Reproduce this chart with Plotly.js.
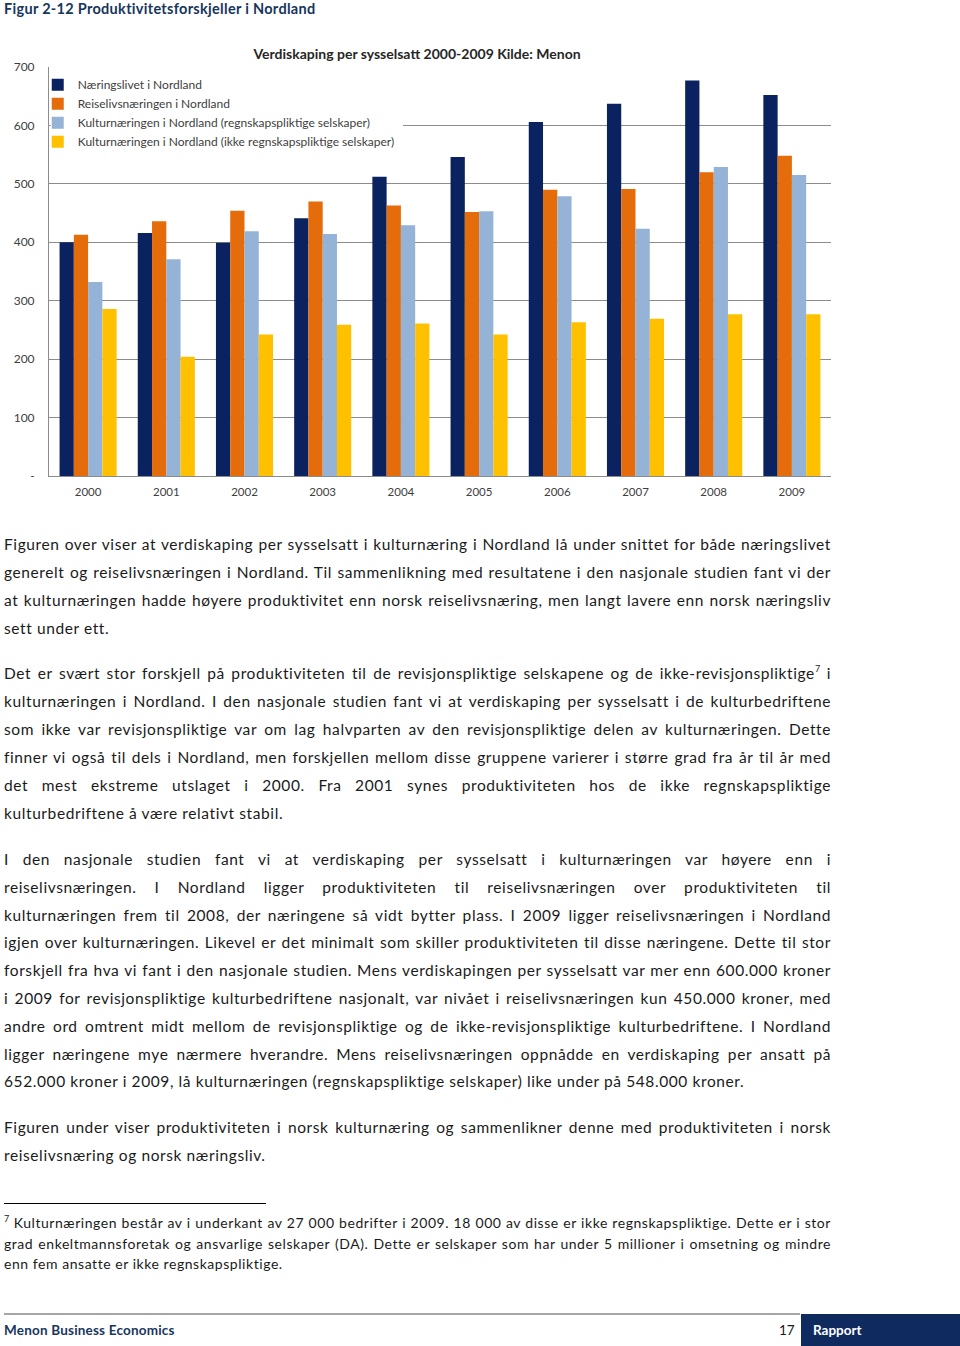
<!DOCTYPE html>
<html>
<head>
<meta charset="utf-8">
<script src="https://cdn.plot.ly/plotly-3.0.1.min.js"></script>
<style>
  html, body { margin:0; padding:0; background:#fff; }
  #page { position:relative; width:960px; height:1346px; overflow:hidden; background:#fff; font-family:"Lato","Open Sans",sans-serif; color:#1a1a1a; }
  #caption { position:absolute; left:4px; top:1px; font-size:14.5px; letter-spacing:0.3px; font-weight:bold; color:#17365D; line-height:15px; white-space:nowrap; }
  #chart { position:absolute; left:0; top:0; width:960px; height:510px; }
  .ln { position:absolute; left:4px; white-space:nowrap; font-size:15.5px; letter-spacing:0.6px; line-height:20px; }
  .fn { position:absolute; left:4px; white-space:nowrap; font-size:14px; letter-spacing:0.55px; line-height:18px; }
  sup { font-size:9px; vertical-align:top; position:relative; top:-4px; letter-spacing:0; }
  #fnrule { position:absolute; left:4px; top:1203px; width:262px; height:1px; background:#000; }
  #footline { position:absolute; left:4px; top:1313px; width:796px; height:2px; background:#a6a6a6; }
  #footleft { position:absolute; left:4px; top:1321px; font-size:13.5px; letter-spacing:0.2px; font-weight:bold; color:#17365D; line-height:18px; }
  #pageno { position:absolute; left:779px; top:1321px; font-size:13.5px; color:#1a1a1a; line-height:18px; }
  #rapbox { position:absolute; left:801px; top:1314px; width:159px; height:32px; background:#0F2A5F; }
  #rapport { position:absolute; left:813px; top:1321px; font-size:13.5px; font-weight:bold; color:#fff; line-height:18px; }
</style>
</head>
<body>
<div id="page">
  <div id="chart"></div>
  <div id="caption">Figur 2-12 Produktivitetsforskjeller i Nordland</div>

  <div class="ln j" style="top:534px">Figuren over viser at verdiskaping per sysselsatt i kulturnæring i Nordland lå under snittet for både næringslivet</div>
  <div class="ln j" style="top:562px">generelt og reiselivsnæringen i Nordland. Til sammenlikning med resultatene i den nasjonale studien fant vi der</div>
  <div class="ln j" style="top:590px">at kulturnæringen hadde høyere produktivitet enn norsk reiselivsnæring, men langt lavere enn norsk næringsliv</div>
  <div class="ln" style="top:618px">sett under ett.</div>

  <div class="ln j" style="top:663px">Det er svært stor forskjell på produktiviteten til de revisjonspliktige selskapene og de ikke-revisjonspliktige<sup>7</sup> i</div>
  <div class="ln j" style="top:691px">kulturnæringen i Nordland. I den nasjonale studien fant vi at verdiskaping per sysselsatt i de kulturbedriftene</div>
  <div class="ln j" style="top:719px">som ikke var revisjonspliktige var om lag halvparten av den revisjonspliktige delen av kulturnæringen. Dette</div>
  <div class="ln j" style="top:747px">finner vi også til dels i Nordland, men forskjellen mellom disse gruppene varierer i større grad fra år til år med</div>
  <div class="ln j" style="top:775px">det mest ekstreme utslaget i 2000. Fra 2001 synes produktiviteten hos de ikke regnskapspliktige</div>
  <div class="ln" style="top:803px">kulturbedriftene å være relativt stabil.</div>

  <div class="ln j" style="top:849px">I den nasjonale studien fant vi at verdiskaping per sysselsatt i kulturnæringen var høyere enn i</div>
  <div class="ln j" style="top:877px">reiselivsnæringen. I Nordland ligger produktiviteten til reiselivsnæringen over produktiviteten til</div>
  <div class="ln j" style="top:905px">kulturnæringen frem til 2008, der næringene så vidt bytter plass. I 2009 ligger reiselivsnæringen i Nordland</div>
  <div class="ln j" style="top:932px">igjen over kulturnæringen. Likevel er det minimalt som skiller produktiviteten til disse næringene. Dette til stor</div>
  <div class="ln j" style="top:960px">forskjell fra hva vi fant i den nasjonale studien. Mens verdiskapingen per sysselsatt var mer enn 600.000 kroner</div>
  <div class="ln j" style="top:988px">i 2009 for revisjonspliktige kulturbedriftene nasjonalt, var nivået i reiselivsnæringen kun 450.000 kroner, med</div>
  <div class="ln j" style="top:1016px">andre ord omtrent midt mellom de revisjonspliktige og de ikke-revisjonspliktige kulturbedriftene. I Nordland</div>
  <div class="ln j" style="top:1044px">ligger næringene mye nærmere hverandre. Mens reiselivsnæringen oppnådde en verdiskaping per ansatt på</div>
  <div class="ln" style="top:1071px">652.000 kroner i 2009, lå kulturnæringen (regnskapspliktige selskaper) like under på 548.000 kroner.</div>

  <div class="ln j" style="top:1117px">Figuren under viser produktiviteten i norsk kulturnæring og sammenlikner denne med produktiviteten i norsk</div>
  <div class="ln" style="top:1145px">reiselivsnæring og norsk næringsliv.</div>

  <div id="fnrule"></div>
  <div class="fn j" style="top:1214px"><sup>7</sup> Kulturnæringen består av i underkant av 27 000 bedrifter i 2009. 18 000 av disse er ikke regnskapspliktige. Dette er i stor</div>
  <div class="fn j" style="top:1235px">grad enkeltmannsforetak og ansvarlige selskaper (DA). Dette er selskaper som har under 5 millioner i omsetning og mindre</div>
  <div class="fn" style="top:1255px">enn fem ansatte er ikke regnskapspliktige.</div>

  <div id="footline"></div>
  <div id="footleft">Menon Business Economics</div>
  <div id="pageno">17</div>
  <div id="rapbox"></div>
  <div id="rapport">Rapport</div>
</div>
<script>
// ---- data ----
const years = ['2000','2001','2002','2003','2004','2005','2006','2007','2008','2009'];
const naeringslivet = [400, 416, 399, 441, 512, 546, 606, 637, 677, 652];
const reiselivsnaeringen = [413, 436, 454, 470, 463, 452, 490, 491, 520, 548];
const kulturRegnskapspliktige = [332, 371, 419, 414, 429, 453, 479, 423, 529, 515];
const kulturIkkeRegnskapspliktige = [286, 204, 242, 259, 261, 242, 263, 269, 277, 277];
const seriesNames = [
  'Næringslivet i Nordland',
  'Reiselivsnæringen i Nordland',
  'Kulturnæringen i Nordland (regnskapspliktige selskaper)',
  'Kulturnæringen i Nordland (ikke regnskapspliktige selskaper)'
];
const yTickVals = [0, 100, 200, 300, 400, 500, 600, 700];
const yTickText = ['-', '100', '200', '300', '400', '500', '600', '700'];
const chartTitle = 'Verdiskaping per sysselsatt 2000-2009 Kilde: Menon';

const colors = ['#0B2260', '#E46C0A', '#95B3D7', '#FFC000'];
const seriesValues = [naeringslivet, reiselivsnaeringen, kulturRegnskapspliktige, kulturIkkeRegnskapspliktige];

const traces = seriesValues.map((vals, i) => ({
  type: 'bar', x: years, y: vals, name: seriesNames[i],
  marker: { color: colors[i], line: { width: 0 } },
  hoverinfo: 'skip'
}));

const FONT = 'Lato, "Open Sans", sans-serif';
const layout = {
  width: 960, height: 510,
  margin: { l: 49, r: 129, t: 67, b: 34 },
  paper_bgcolor: 'rgba(0,0,0,0)', plot_bgcolor: 'rgba(0,0,0,0)',
  font: { family: FONT, size: 12, color: '#404040' },
  title: {
    text: '<b>' + chartTitle + '</b>',
    font: { family: FONT, size: 14, color: '#262626' },
    xref: 'paper', x: (417 - 49) / 782, xanchor: 'center',
    yref: 'container', y: 1 - 54 / 510, yanchor: 'middle'
  },
  barmode: 'group', bargap: 0.27, bargroupgap: 0,
  xaxis: {
    type: 'category', showline: true, linecolor: '#8c8c8c', linewidth: 1,
    ticks: '', showgrid: false, zeroline: false, ticklabelstandoff: 5,
    tickfont: { family: FONT, size: 11.5, color: '#404040' }
  },
  yaxis: {
    range: [0, 700], tickvals: yTickVals, ticktext: yTickText,
    showgrid: true, gridcolor: '#8c8c8c', gridwidth: 1,
    showline: true, linecolor: '#8c8c8c', linewidth: 1, zeroline: false,
    ticks: '', ticklabelstandoff: 11,
    tickfont: { family: FONT, size: 12, color: '#404040' }
  },
  legend: {
    x: -0.0144, xanchor: 'left', y: 0.992, yanchor: 'top',
    bgcolor: 'rgba(0,0,0,0)', borderwidth: 0,
    font: { family: FONT, size: 12, color: '#404040' },
    tracegroupgap: 0, traceorder: 'normal', itemclick: false, itemdoubleclick: false
  },
  shapes: [{
    type: 'rect', xref: 'paper', yref: 'paper', x0: 0.002, x1: 0.4527, y0: 0.78, y1: 0.99,
    fillcolor: '#ffffff', line: { width: 0 }, layer: 'above'
  }],
  showlegend: true
};

// justify lines to the text block width
function justify() {
  const W = 827;
  document.querySelectorAll('.j').forEach(el => {
    el.style.wordSpacing = '0px';
    const w = el.getBoundingClientRect().width;
    const spaces = (el.textContent.match(/ /g) || []).length;
    if (spaces > 0) el.style.wordSpacing = ((W - w) / spaces) + 'px';
  });
}
justify();
if (document.fonts && document.fonts.ready) document.fonts.ready.then(justify);

Plotly.newPlot('chart', traces, layout, { staticPlot: true, displayModeBar: false });
</script>
</body>
</html>
